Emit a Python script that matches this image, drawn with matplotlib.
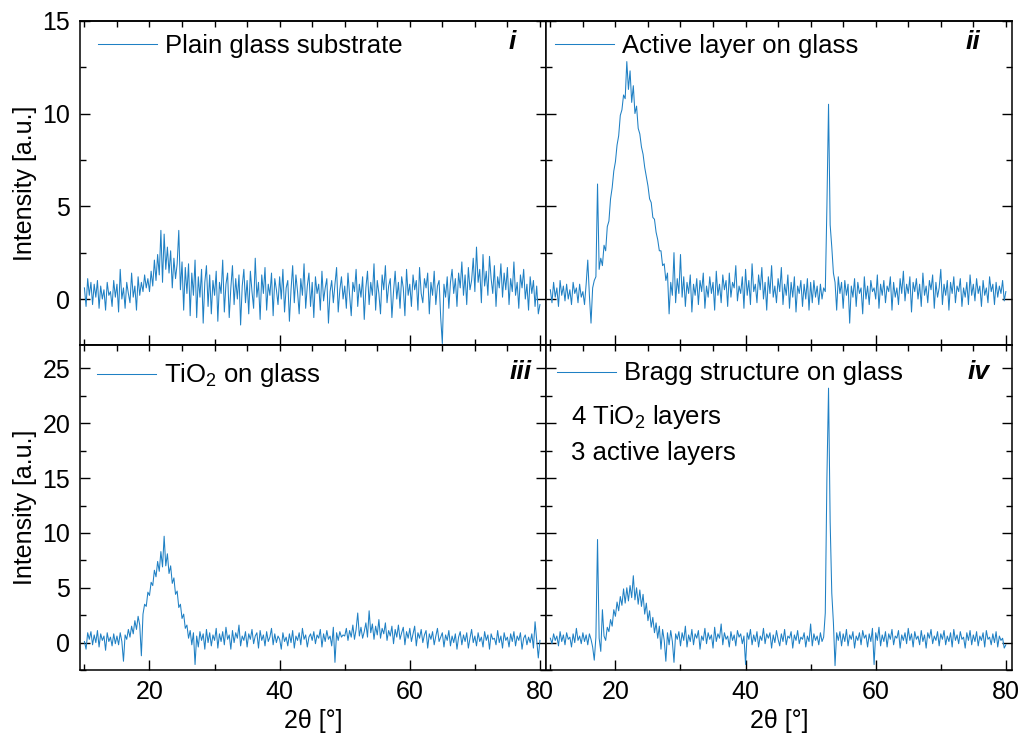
"""XRD patterns of glass, active layer, TiO2 and the Bragg stack."""

import matplotlib

matplotlib.use("Agg")

import matplotlib.pyplot as plt
import numpy as np
from matplotlib.ticker import MultipleLocator

plt.rcParams["font.family"] = ["Liberation Sans", "DejaVu Sans"]
plt.rcParams["mathtext.fontset"] = "custom"
plt.rcParams["mathtext.rm"] = "Liberation Sans"
plt.rcParams["mathtext.it"] = "Liberation Sans:italic"

# 2theta sampling, 10..80 deg in 0.25 deg steps (281 points)
two_theta = np.linspace(10, 80, 281)

# intensities, one row per 5 deg
plain_glass = [
    0.6, -0.4, 1.1, 0.2, 0.9, -0.3, 0.8, 0.1, 1.0, -0.5, 0.7, 0.0, 0.5, -0.6, 0.9, 0.2, 0.4, -0.4, 1.0, 0.1,
    0.8, -0.7, 1.6, 0.0, 0.6, -0.5, 0.9, 0.3, -0.2, 1.4, 0.1, 0.7, -0.6, 1.2, 0.2, 0.9, 0.4, 1.3, 0.6, 1.1,
    0.4, 1.5, 0.7, 2.1, 1.0, 2.4, 1.3, 3.7, 0.9, 3.5, 1.6, 2.8, 1.4, 2.6, 0.6, 2.2, 1.1, 1.9, 3.7, 0.5,
    2.0, -0.6, 1.7, 0.3, 1.9, -0.9, 1.4, 0.2, 2.1, -1.0, 1.2, 0.1, 1.6, -1.3, 0.9, 1.8, -0.4, 1.3, -0.8, 1.0,
    0.2, 1.5, -1.2, 0.9, 0.3, 2.1, -0.7, 0.8, 1.4, -1.0, 0.6, 1.8, -0.3, 1.1, 0.0, 1.3, -1.4, 0.7, 1.6, -0.2,
    1.0, -0.8, 1.5, 0.4, -0.5, 2.2, 0.1, 0.9, -1.1, 1.3, 0.3, 1.7, -0.6, 0.8, 0.2, 1.4, -0.9, 1.1, 0.5, -0.3,
    1.2, 0.0, 1.6, -0.7, 0.6, 1.0, -1.2, 0.5, 1.8, -0.2, 1.3, 0.4, -0.8, 1.1, 0.2, 1.9, -0.5, 0.7, 1.4, -0.4,
    0.9, -1.0, 1.2, 0.3, 0.8, -0.6, 1.5, -0.1, 0.6, 1.1, -1.3, 0.4, 1.0, -0.2, 0.8, 1.7, -0.7, 0.5, 1.2, 0.0,
    0.7, -0.5, 1.4, 0.2, -0.9, 0.9, 0.4, 1.6, -0.4, 0.8, 0.1, 1.2, -1.1, 0.6, 1.5, -0.3, 0.9, 0.2, 1.9, -0.6,
    1.0, 0.3, -0.8, 1.3, 0.5, 1.8, -0.2, 0.7, 1.1, -1.0, 0.4, 1.5, 0.0, 0.9, -0.5, 1.2, 0.6, -0.9, 1.6, 0.2,
    0.8, -0.4, 1.3, 0.5, 1.0, -0.6, 1.7, 0.3, -0.2, 1.1, 0.6, 1.4, -0.8, 0.9, 0.2, 1.5, -0.3, 0.7, 1.0, -1.0,
    -2.4, 0.8, 0.1, 1.2, -0.5, 0.9, 1.6, 0.3, 1.1, -0.4, 1.4, 0.6, 2.0, 0.2, 1.3, -0.3, 1.7, 0.5, 1.0, 2.2,
    0.4, 2.8, 0.9, 1.6, -0.2, 2.4, 0.7, 1.5, 0.2, 2.3, 1.1, 0.3, 1.8, -0.4, 1.2, 0.6, 1.9, 0.1, 1.4, 0.5,
    1.7, -0.3, 1.1, 0.4, 2.0, 0.2, 0.9, -0.5, 1.3, 0.6, 1.6, 0.0, 0.8, -0.6, 1.2, 0.3, 1.0, -0.4, 0.7, -0.8,
    -0.3,
]

active_layer = [
    0.5, -0.2, 0.9, 0.1, 0.6, -0.4, 1.0, 0.2, 0.7, -0.1, 0.8, 0.0, 0.5, -0.3, 0.9, 0.3, 0.6, -0.2, 0.8, 0.1,
    0.4, -0.3, 0.8, 2.1, 0.2, -1.3, 0.6, 1.0, 1.2, 6.2, 1.6, 2.2, 1.8, 2.9, 2.6, 3.9, 4.2, 5.4, 6.0, 6.9,
    7.4, 8.3, 8.8, 9.9, 10.2, 11.0, 10.8, 12.8, 11.3, 12.3, 10.6, 11.5, 10.0, 10.4, 9.2, 8.9, 8.2, 7.8, 7.1, 6.6,
    6.1, 5.4, 5.2, 4.4, 4.3, 3.6, 3.2, 2.6, 2.6, 1.8, 1.9, 1.0, 1.4, -0.8, 0.9, 0.2, 2.5, -0.2, 1.1, 0.3,
    2.4, 0.1, 1.2, -0.4, 0.9, 0.3, 1.3, -0.7, 0.8, 0.2, 1.1, -0.3, 1.0, 0.4, 1.4, -0.5, 0.7, 0.1, 1.2, 0.3,
    0.9, -0.6, 1.5, 0.2, 0.8, -0.2, 1.3, 0.5, 1.0, -0.4, 1.4, 0.1, 0.9, 0.6, 1.8, -0.1, 0.7, 0.3, 1.2, -0.5,
    1.6, 0.2, 1.0, -0.3, 1.9, 0.4, 0.8, -0.2, 1.3, 0.5, 1.7, 0.0, 0.9, -0.6, 1.2, 0.3, 1.8, 0.1, 0.7, -0.2,
    1.1, 0.4, 1.7, -0.3, 0.8, 0.2, 1.3, -0.5, 0.9, 0.1, 1.2, -0.7, 0.7, 0.3, 1.0, -0.4, 0.8, 0.0, 1.1, -0.6,
    0.9, -0.2, 1.0, 0.1, 0.7, -0.3, 0.8, 0.0, 0.6, 0.4, 5.0, 10.5, 4.0, 2.8, 1.4, 0.9, -0.6, 1.2, 0.3, 0.9,
    -0.5, 1.0, 0.2, 0.8, -1.3, 0.7, 0.1, 1.1, -0.4, 0.9, 0.3, 0.6, -0.8, 1.2, 0.0, 0.7, -0.3, 1.0, 0.4, 0.6,
    0.0, 1.3, -0.5, 0.8, 0.2, 1.0, -0.2, 0.7, 0.4, 1.2, -0.6, 0.9, 0.1, 0.6, -0.3, 1.1, 0.3, 1.5, -0.1, 0.8,
    0.3, 1.2, -0.7, 0.9, 0.4, 1.1, 0.0, 0.8, -0.4, 1.4, 0.2, 0.7, -0.2, 1.0, 0.5, 1.3, -0.5, 0.9, 0.1, 0.6,
    1.6, -0.3, 0.8, 0.2, 1.0, -0.6, 0.9, 0.3, 1.2, -0.2, 0.7, 0.4, 1.1, -0.4, 0.6, 0.1, 0.9, -0.3, 1.3, 0.2,
    0.8, -0.1, 1.1, 0.3, 0.7, -0.4, 1.0, 0.2, 0.6, -0.2, 1.2, 0.4, 0.8, -0.3, 0.9, 0.1, 0.7, 0.3, 1.0, -0.1,
    0.4,
]

tio2_glass = [
    0.1, -0.6, 0.9, 0.3, 1.0, -0.2, 0.7, 0.0, 1.1, -0.4, 0.8, 0.2, 0.6, -0.7, 0.9, 0.1, 0.5, -0.3, 0.8, -0.1,
    0.6, -0.2, 0.9, 0.1, -1.7, 0.7, 0.3, 1.2, 0.5, 1.5, 0.8, 2.0, 1.2, 2.4, 1.6, -1.2, 2.6, 3.5, 3.3, 4.6,
    4.3, 5.5, 5.2, 6.6, 6.0, 7.4, 6.5, 8.3, 6.9, 9.7, 7.0, 8.1, 6.3, 7.0, 5.4, 5.9, 4.4, 4.7, 3.2, 3.5,
    2.2, 2.6, 1.3, 1.6, 0.4, 1.1, -0.2, 0.9, -2.0, 0.6, -0.4, 1.0, 0.2, 0.8, -0.6, 1.2, 0.0, 0.9, -0.3, 0.7,
    0.2, 1.3, -0.5, 0.8, 0.1, 1.0, -0.2, 1.4, 0.3, 0.7, -0.6, 1.1, 0.0, 0.9, 0.4, 1.6, -0.3, 0.6, 0.2, 1.0,
    -0.4, 0.8, 0.3, 1.2, -0.1, 0.6, 0.9, -0.5, 1.1, 0.2, 0.7, -0.3, 1.0, 0.1, 0.5, 1.3, -0.2, 0.8, 0.0, 0.6,
    0.3, -0.6, 0.9, 0.1, 0.5, -0.3, 0.8, 0.0, 1.1, -0.5, 0.6, 0.2, 0.9, -0.2, 1.3, 0.3, 0.7, -0.4, 0.5, 0.8,
    0.2, 1.0, -0.1, 0.7, 0.4, 1.2, -0.4, 0.8, 0.1, 1.1, 0.3, 0.6, -0.3, 1.4, -1.8, 0.9, 0.2, 1.0, 0.5, 0.7,
    0.6, 1.3, 0.2, 1.1, 0.5, 1.6, 0.3, 1.2, 2.7, 0.6, 1.4, 0.4, 1.0, 1.8, 0.5, 2.9, 0.9, 1.7, 0.3, 1.5,
    0.7, 2.1, 0.4, 1.3, 0.8, 1.8, 0.2, 1.1, 0.6, 1.5, -0.1, 1.2, 0.5, 1.6, 0.3, 0.9, 1.4, -0.2, 1.0, 0.4,
    1.3, 0.1, 0.8, 1.5, -0.3, 0.9, 0.4, 1.2, 0.0, 0.7, 1.1, -0.5, 0.8, 0.3, 1.0, -0.2, 0.6, 1.3, 0.1, 0.5,
    0.9, -0.4, 0.7, 0.2, 1.1, -0.3, 0.6, 0.0, 0.8, -0.6, 0.5, 1.0, -0.2, 0.7, 0.1, 0.9, -0.5, 0.4, 1.2, 0.0,
    0.6, -0.3, 0.9, 0.1, 0.5, -0.4, 1.0, 0.2, 0.7, -0.6, 0.8, 0.3, 0.4, -0.2, 1.1, 0.0, 0.6, -0.5, 0.9, 0.2,
    0.5, -0.4, 0.8, 0.1, 1.0, -0.3, 0.6, 0.2, 0.9, -0.6, 0.4, 0.7, -0.2, 0.5, 0.0, 0.8, -0.5, 1.9, 0.3, -1.4,
    0.2,
]

bragg_stack = [
    0.4, -0.1, 0.8, 0.2, 0.6, -0.3, 1.0, 0.1, 0.7, -0.2, 0.9, 0.3, 0.5, -0.4, 0.8, 0.0, 1.3, 0.2, 0.6, -0.1,
    0.9, 0.1, 0.7, -0.2, 0.8, 0.3, -0.4, -1.6, 0.5, 9.4, 0.4, -0.8, 3.0, 0.6, 0.2, 1.4, 1.0, 2.1, 1.5, 3.0,
    2.4, 3.7, 2.9, 4.2, 3.4, 4.9, 3.6, 5.0, 3.8, 5.2, 4.1, 6.1, 3.9, 5.0, 3.5, 4.8, 3.3, 4.4, 2.6, 3.6,
    2.0, 2.9, 1.4, 2.3, 0.9, 1.8, 0.4, 1.5, -0.6, 1.2, 0.2, -1.7, 0.9, -0.2, 1.1, 0.1, -1.8, 0.8, 0.3, 1.0,
    -0.3, 0.9, 0.2, 1.5, -0.4, 0.7, 0.1, 1.2, -0.2, 0.8, 0.4, 1.1, -0.6, 0.6, 0.2, 1.3, -0.1, 0.9, 0.3, 0.7,
    -0.5, 1.4, 0.1, 0.8, 0.4, 1.7, -0.2, 0.9, 0.3, 0.6, -0.4, 1.0, 0.2, 0.7, -0.3, 1.1, 0.5, 0.8, -0.1, 0.6,
    -2.0, 0.9, 0.3, 1.2, -0.2, 0.7, 0.1, 1.0, -0.4, 0.6, 0.2, 1.3, -0.1, 0.8, 0.4, 0.9, -0.5, 0.7, 0.0, 1.1,
    0.3, -0.3, 0.8, 0.1, 1.2, -0.2, 0.6, 0.4, 1.0, -0.5, 0.7, 0.2, 1.1, -0.1, 0.5, 0.3, 0.9, -0.4, 0.6, 0.1,
    1.7, -0.3, 0.8, 0.2, 0.6, -0.2, 0.9, 0.1, 0.5, 2.7, 15.0, 23.2, 11.0, 4.5, 1.8, -2.1, 0.9, 0.2, 1.0, -0.3,
    0.8, 0.1, 1.2, -0.3, 0.7, 0.3, 1.0, -0.5, 0.6, 0.2, 0.9, -0.2, 1.1, 0.4, 0.7, -0.4, 0.8, 0.1, 1.3, -2.0,
    0.9, 0.2, 1.4, -0.3, 0.7, 0.1, 1.0, -0.4, 0.8, 0.3, 1.2, -0.2, 0.6, 0.4, 1.1, -0.5, 0.7, 0.2, 0.9, -0.1,
    1.3, 0.2, 0.8, -0.4, 1.0, 0.3, 0.6, -0.2, 1.1, 0.1, 0.7, -0.5, 0.9, 0.4, 1.2, -0.1, 0.6, 0.2, 1.0, -0.3,
    0.8, 0.3, 1.1, -0.2, 0.6, 0.1, 0.9, -0.4, 1.2, 0.2, 0.7, -0.1, 1.0, 0.3, 0.5, -0.5, 0.9, 0.2, 1.1, -0.2,
    0.7, 0.1, 1.0, -0.3, 0.6, 0.2, 0.9, -0.4, 1.1, 0.3, 0.5, -0.2, 0.8, 0.0, 1.0, -0.4, 0.6, 0.2, 0.4, -0.5,
    -0.2,
]

series = [plain_glass, active_layer, tio2_glass, bragg_stack]
legend_labels = [
    "Plain glass substrate",
    "Active layer on glass",
    "TiO$_2$ on glass",
    "Bragg structure on glass",
]
panel_tags = ["i", "ii", "iii", "iv"]

line_color = "#1f80c4"

fig, axes = plt.subplots(2, 2, figsize=(10.24, 7.42), dpi=100, sharex=True)
fig.subplots_adjust(left=0.078, right=0.988, top=0.972, bottom=0.097,
                    wspace=0, hspace=0)

# legend anchors and tag positions (axes fraction)
legend_anchor = [(0.011, 1.0), (-0.007, 1.0), (0.009, 0.99), (-0.004, 0.99)]
tag_pos = [(0.935, 0.935), (0.932, 0.935), (0.970, 0.917), (0.953, 0.917)]

for idx, ax in enumerate(axes.flat):
    ax.plot(two_theta, series[idx], color=line_color, linewidth=0.75,
            label=legend_labels[idx])
    ax.set_xlim(9.3, 80.9)
    if idx < 2:
        ax.set_ylim(-2.5, 15)
    else:
        ax.set_ylim(-2.5, 27.1)
    ax.yaxis.set_major_locator(MultipleLocator(5))
    ax.yaxis.set_minor_locator(MultipleLocator(2.5))
    ax.xaxis.set_major_locator(MultipleLocator(20))
    ax.xaxis.set_minor_locator(MultipleLocator(10))
    ax.tick_params(which="both", direction="in", right=True, top=False,
                   labelsize=18, width=1.0)
    ax.tick_params(which="major", length=7)
    ax.tick_params(which="minor", length=4)
    ax.tick_params(axis="y", pad=7)
    top = ax.secondary_xaxis("top")
    top.xaxis.set_major_locator(MultipleLocator(5))
    top.tick_params(direction="in", length=4, width=1.0, labeltop=False)
    for spine in ax.spines.values():
        spine.set_linewidth(1.1)
    for spine in top.spines.values():
        spine.set_linewidth(1.1)

    if idx % 2 == 1:
        ax.tick_params(labelleft=False)
    else:
        ax.set_ylabel("Intensity [a.u.]", fontsize=18, labelpad=4)
    if idx >= 2:
        ax.set_xlabel("2θ [°]", fontsize=18, labelpad=4)
        ax.tick_params(axis="x", pad=7)

    ax.legend(loc="upper left", bbox_to_anchor=legend_anchor[idx],
              frameon=False, fontsize=18.5, handlelength=2.3,
              handletextpad=0.3, borderaxespad=0.2, borderpad=0.3)
    ax.text(tag_pos[idx][0], tag_pos[idx][1], panel_tags[idx],
            transform=ax.transAxes, ha="right", va="center",
            fontsize=19, fontweight="bold", fontstyle="italic")

axes[1, 1].text(0.054, 0.78, "4 TiO$_2$ layers", transform=axes[1, 1].transAxes,
                ha="left", va="center", fontsize=18.5)
axes[1, 1].text(0.054, 0.668, "3 active layers", transform=axes[1, 1].transAxes,
                ha="left", va="center", fontsize=18.5)

fig.savefig("out.png", dpi=100)
